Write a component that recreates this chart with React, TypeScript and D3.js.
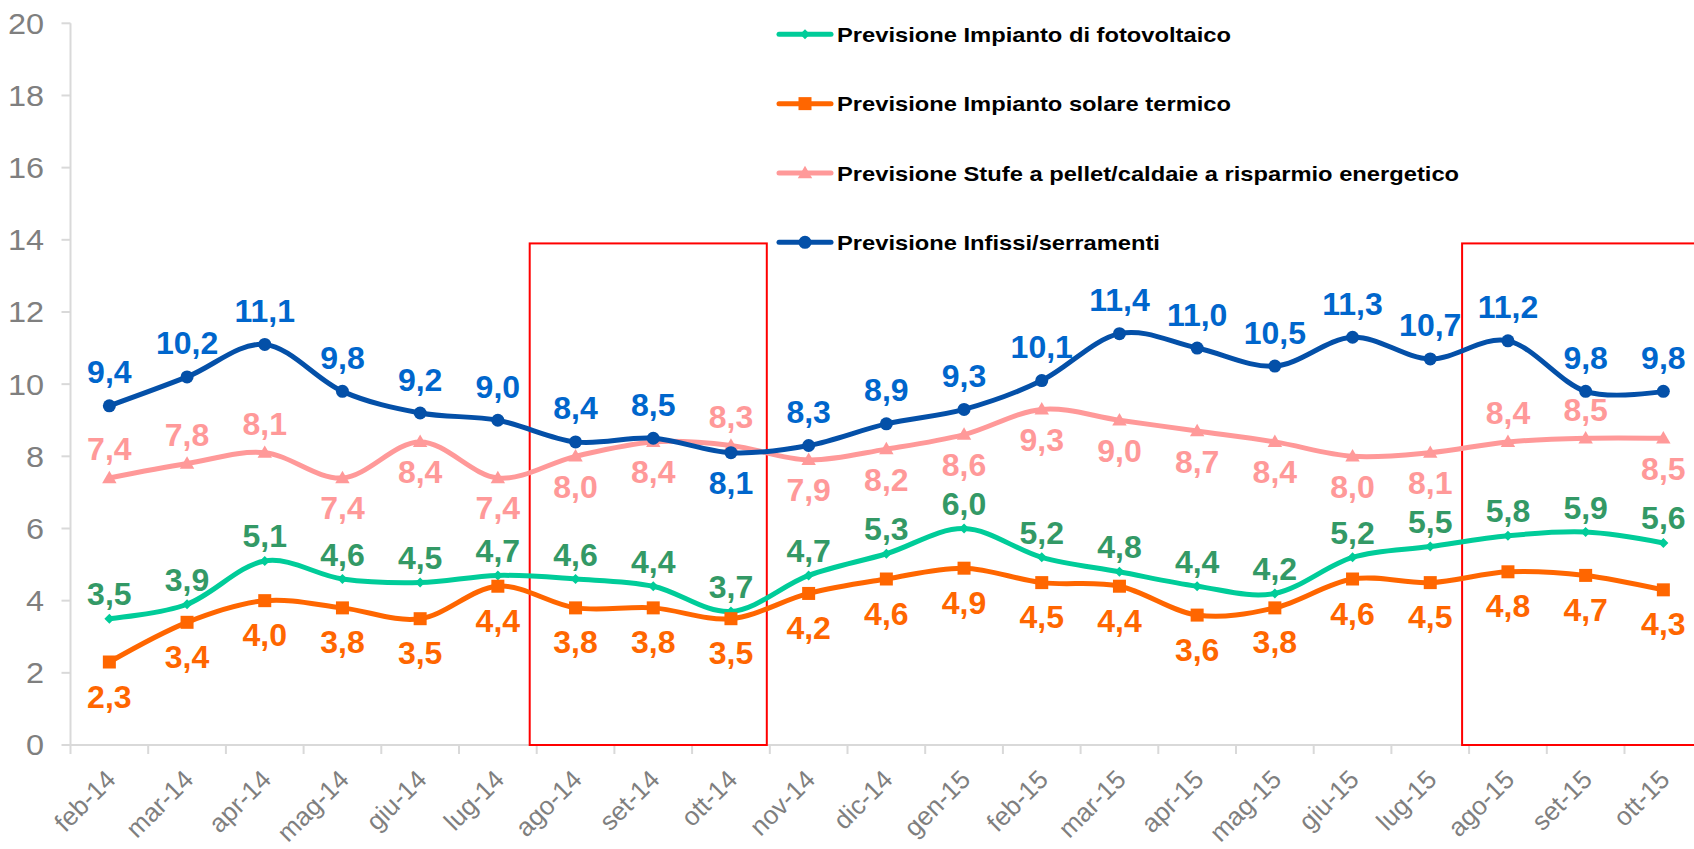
import { useEffect, useRef } from "react";
import * as d3 from "d3";

const categories = [
  "feb-14", "mar-14", "apr-14", "mag-14", "giu-14", "lug-14", "ago-14",
  "set-14", "ott-14", "nov-14", "dic-14", "gen-15", "feb-15", "mar-15",
  "apr-15", "mag-15", "giu-15", "lug-15", "ago-15", "set-15", "ott-15",
];

const fotovoltaico = [3.5, 3.9, 5.1, 4.6, 4.5, 4.7, 4.6, 4.4, 3.7, 4.7, 5.3, 6.0, 5.2, 4.8, 4.4, 4.2, 5.2, 5.5, 5.8, 5.9, 5.6];
const solareTermico = [2.3, 3.4, 4.0, 3.8, 3.5, 4.4, 3.8, 3.8, 3.5, 4.2, 4.6, 4.9, 4.5, 4.4, 3.6, 3.8, 4.6, 4.5, 4.8, 4.7, 4.3];
const stufePellet = [7.4, 7.8, 8.1, 7.4, 8.4, 7.4, 8.0, 8.4, 8.3, 7.9, 8.2, 8.6, 9.3, 9.0, 8.7, 8.4, 8.0, 8.1, 8.4, 8.5, 8.5];
const infissi = [9.4, 10.2, 11.1, 9.8, 9.2, 9.0, 8.4, 8.5, 8.1, 8.3, 8.9, 9.3, 10.1, 11.4, 11.0, 10.5, 11.3, 10.7, 11.2, 9.8, 9.8];

// where each data label sits: a = above the point, b = below
const fotovoltaicoLabels = "aaaaaaaaaaaaaaaaaaaaa".split("");
const solareLabels = "bbbbbbbbbbbbbbbbbbbbb".split("");
const stufeLabels = "aaabbbbbabbbbbbbbbaab".split("");
const infissiLabels = "aaaaaaaabaaaaaaaaaaaa".split("");

const yTicks = [0, 2, 4, 6, 8, 10, 12, 14, 16, 18, 20];

// boxed periods
const highlights = [
  ["ago-14", "ott-14"],
  ["ago-15", "ott-15"],
];

const FONT = "'Liberation Sans', Arial, sans-serif";

const series = [
  { name: "Previsione Impianto di fotovoltaico", values: fotovoltaico, pos: fotovoltaicoLabels, line: "#00cc99", text: "#339966", marker: "diamond" },
  { name: "Previsione Impianto solare termico", values: solareTermico, pos: solareLabels, line: "#ff6600", text: "#ff6600", marker: "square" },
  { name: "Previsione Stufe a pellet/caldaie a risparmio energetico", values: stufePellet, pos: stufeLabels, line: "#ff9999", text: "#ff9999", marker: "triangle" },
  { name: "Previsione Infissi/serramenti", values: infissi, pos: infissiLabels, line: "#0450a8", text: "#0066cc", marker: "circle" },
];

const itLocale = d3.formatLocale({ decimal: ",", thousands: ".", grouping: [3], currency: ["", "€"] });
const fmt = itLocale.format(".1f");

function drawMarker(g, kind, cx, cy, color) {
  if (kind === "circle") {
    g.append("circle").attr("cx", cx).attr("cy", cy).attr("r", 6.5).attr("fill", color);
  } else if (kind === "square") {
    g.append("rect").attr("x", cx - 6.5).attr("y", cy - 6.5).attr("width", 13).attr("height", 13).attr("fill", color);
  } else if (kind === "triangle") {
    g.append("path")
      .attr("d", d3.symbol(d3.symbolTriangle, 90)())
      .attr("transform", `translate(${cx},${cy + 1})`)
      .attr("fill", color);
  } else {
    g.append("path")
      .attr("d", d3.symbol(d3.symbolSquare, 50)())
      .attr("transform", `translate(${cx},${cy}) rotate(45)`)
      .attr("fill", color);
  }
}

function Chart() {
  const svgRef = useRef(null);

  useEffect(() => {
    if (!svgRef.current) return;
    const width = 1694;
    const height = 849;
    const left = 70.5;
    const step = 77.7;

    const svg = d3.select(svgRef.current);
    svg.selectAll("*").remove();
    svg.attr("width", width).attr("height", height).attr("viewBox", `0 0 ${width} ${height}`);

    const x = d3
      .scaleBand()
      .domain(categories)
      .range([left, left + step * categories.length])
      .padding(0);
    const cx = (c) => x(c)! + x.bandwidth() / 2;

    const y = d3.scaleLinear().domain([0, 20]).range([745, 23.3]);

    const axisColor = "#d9d9d9";

    // y axis
    svg.append("line")
      .attr("x1", left).attr("x2", left)
      .attr("y1", y(20)).attr("y2", y(0))
      .attr("stroke", axisColor).attr("stroke-width", 2);

    yTicks.forEach((t) => {
      svg.append("line")
        .attr("x1", left - 9).attr("x2", left)
        .attr("y1", y(t)).attr("y2", y(t))
        .attr("stroke", axisColor).attr("stroke-width", 2);
      svg.append("text")
        .attr("transform", `translate(44,${y(t)}) scale(1.12,1)`)
        .attr("dy", "0.36em")
        .attr("text-anchor", "end")
        .attr("fill", "#7f7f7f")
        .attr("font-family", FONT)
        .attr("font-size", "29px")
        .text(t);
    });

    // x axis
    svg.append("line")
      .attr("x1", left).attr("x2", left + step * categories.length)
      .attr("y1", y(0)).attr("y2", y(0))
      .attr("stroke", axisColor).attr("stroke-width", 2);

    categories.forEach((c, i) => {
      const edge = x(c)!;
      svg.append("line")
        .attr("x1", edge).attr("x2", edge)
        .attr("y1", y(0)).attr("y2", y(0) + 9)
        .attr("stroke", axisColor).attr("stroke-width", 2);
      if (i === categories.length - 1) {
        svg.append("line")
          .attr("x1", edge + step).attr("x2", edge + step)
          .attr("y1", y(0)).attr("y2", y(0) + 9)
          .attr("stroke", axisColor).attr("stroke-width", 2);
      }
      svg.append("text")
        .attr("transform", `translate(${cx(c) + 8},${y(0) + 36}) rotate(-45)`)
        .attr("text-anchor", "end")
        .attr("fill", "#7f7f7f")
        .attr("font-family", FONT)
        .attr("font-size", "26px")
        .text(c);
    });

    // red boxes
    highlights.forEach(([a, b]) => {
      svg.append("rect")
        .attr("x", x(a)! - 7)
        .attr("y", y(13.9))
        .attr("width", x(b)! + x.bandwidth() - 3 - (x(a)! - 7))
        .attr("height", y(0) - y(13.9))
        .attr("fill", "none")
        .attr("stroke", "#ff0000")
        .attr("stroke-width", 2);
    });

    // lines + markers
    const line = d3
      .line<number>()
      .x((_, i) => cx(categories[i]))
      .y((v) => y(v))
      .curve(d3.curveCardinal.tension(0));

    series.forEach((s) => {
      const g = svg.append("g");
      g.append("path")
        .attr("d", line(s.values))
        .attr("fill", "none")
        .attr("stroke", s.line)
        .attr("stroke-width", 5)
        .attr("stroke-linejoin", "round")
        .attr("stroke-linecap", "round");
      s.values.forEach((v, i) => drawMarker(g, s.marker, cx(categories[i]), y(v), s.line));
    });

    // data labels
    const aboveOffset = [-25, -30, -29, -34];
    const belowOffset = [31, 34, 30, 30];
    series.forEach((s, si) => {
      s.values.forEach((v, i) => {
        const off = s.pos[i] === "a" ? aboveOffset[si] : belowOffset[si];
        svg.append("text")
          .attr("x", cx(categories[i]))
          .attr("y", y(v) + off)
          .attr("dy", "0.36em")
          .attr("text-anchor", "middle")
          .attr("fill", s.text)
          .attr("font-family", FONT)
          .attr("font-weight", "bold")
          .attr("font-size", "32px")
          .text(fmt(v));
      });
    });

    // legend
    const legendY = d3.scaleLinear().domain([0, 3]).range([34.3, 242.3]);
    series.forEach((s, i) => {
      const ly = legendY(i);
      const g = svg.append("g");
      g.append("line")
        .attr("x1", 779).attr("x2", 831)
        .attr("y1", ly).attr("y2", ly)
        .attr("stroke", s.line).attr("stroke-width", 5)
        .attr("stroke-linecap", "round");
      drawMarker(g, s.marker, 805, ly, s.line);
      g.append("text")
        .attr("transform", `translate(837,${ly + 7.8}) scale(1.13,1)`)
        .attr("fill", "#000")
        .attr("font-family", FONT)
        .attr("font-weight", "bold")
        .attr("font-size", "21px")
        .text(s.name);
    });
  }, []);

  return <svg ref={svgRef} style={{ position: "fixed", left: 0, top: 0, background: "#fff" }} />;
}

export default function App() {
  return <Chart />;
}
